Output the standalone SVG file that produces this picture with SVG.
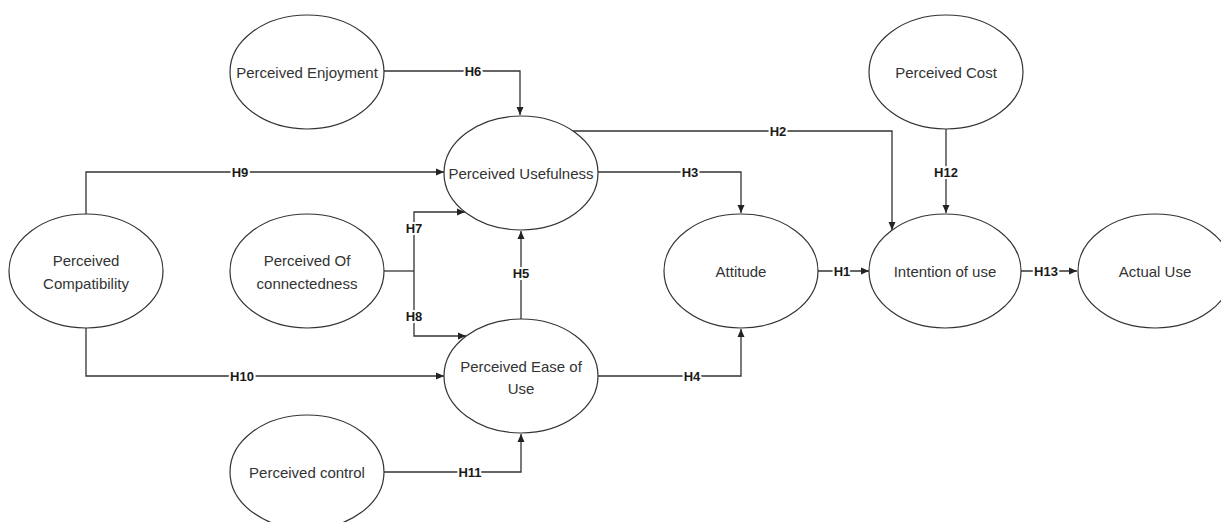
<svg xmlns="http://www.w3.org/2000/svg" width="1221" height="522" viewBox="0 0 1221 522">
<style>
.n{fill:#fff;stroke:#333;stroke-width:1.2}
.t{font-family:"Liberation Sans",Arial,sans-serif;font-size:15px;fill:#333;text-anchor:middle;dominant-baseline:central}
.e{fill:none;stroke:#333;stroke-width:1.3}
.l{font-family:"Liberation Sans",Arial,sans-serif;font-size:13px;font-weight:bold;fill:#1a1a1a;text-anchor:middle;dominant-baseline:central;stroke:#fff;stroke-width:4;paint-order:stroke;stroke-linejoin:round}
</style>
<defs>
<marker id="a" markerUnits="userSpaceOnUse" markerWidth="9" markerHeight="8" refX="8" refY="4" orient="auto"><path d="M0,0.5 L8,4 L0,7.5 z" fill="#222"/></marker>
</defs>
<rect width="1221" height="522" fill="#fff"/>
<g id="connectors">
<path class="e" d="M384,71 H520 V115" marker-end="url(#a)"/>
<path class="e" d="M86,214 V172 H444" marker-end="url(#a)"/>
<path class="e" d="M573,131 H892 V230" marker-end="url(#a)"/>
<path class="e" d="M598,172 H741 V213" marker-end="url(#a)"/>
<path class="e" d="M946,129 V213" marker-end="url(#a)"/>
<path class="e" d="M384,271 H414" stroke-width="2.4"/>
<path class="e" d="M414,271 V212 H465" marker-end="url(#a)"/>
<path class="e" d="M414,271 V336 H466" marker-end="url(#a)"/>
<path class="e" d="M521,319 V231" marker-end="url(#a)"/>
<path class="e" d="M86,328 V376 H444" marker-end="url(#a)"/>
<path class="e" d="M598,376 H741 V329" marker-end="url(#a)"/>
<path class="e" d="M384,472 H521 V434" marker-end="url(#a)"/>
<path class="e" d="M818,271 H869" marker-end="url(#a)"/>
<path class="e" d="M1021,271 H1077" marker-end="url(#a)"/>
<text class="l" x="473" y="71">H6</text>
<text class="l" x="240" y="172">H9</text>
<text class="l" x="778" y="131">H2</text>
<text class="l" x="690" y="172">H3</text>
<text class="l" x="946" y="172">H12</text>
<text class="l" x="414" y="228">H7</text>
<text class="l" x="414" y="316">H8</text>
<text class="l" x="521" y="273">H5</text>
<text class="l" x="242" y="376">H10</text>
<text class="l" x="692" y="376">H4</text>
<text class="l" x="470" y="472">H11</text>
<text class="l" x="842" y="271">H1</text>
<text class="l" x="1046" y="271">H13</text>
</g>
<g id="enjoyment"><ellipse class="n" cx="307" cy="72" rx="77" ry="57"/><text class="t" x="307" y="72">Perceived Enjoyment</text></g>
<g id="usefulness"><ellipse class="n" cx="521" cy="173" rx="77" ry="57"/><text class="t" x="521" y="173">Perceived Usefulness</text></g>
<g id="compatibility"><ellipse class="n" cx="86" cy="271" rx="77" ry="57"/><text class="t" x="86" y="260">Perceived</text><text class="t" x="86" y="283">Compatibility</text></g>
<g id="connectedness"><ellipse class="n" cx="307" cy="271" rx="77" ry="57"/><text class="t" x="307" y="260">Perceived Of</text><text class="t" x="307" y="283">connectedness</text></g>
<g id="ease"><ellipse class="n" cx="521" cy="376" rx="77" ry="57"/><text class="t" x="521" y="366">Perceived Ease of</text><text class="t" x="521" y="388">Use</text></g>
<g id="control"><ellipse class="n" cx="307" cy="472" rx="77" ry="57"/><text class="t" x="307" y="472">Perceived control</text></g>
<g id="attitude"><ellipse class="n" cx="741" cy="271" rx="77" ry="57"/><text class="t" x="741" y="271">Attitude</text></g>
<g id="intention"><ellipse class="n" cx="945" cy="271" rx="76" ry="57"/><text class="t" x="945" y="271">Intention of use</text></g>
<g id="actual"><ellipse class="n" cx="1155" cy="271" rx="77" ry="57"/><text class="t" x="1155" y="271">Actual Use</text></g>
<g id="cost"><ellipse class="n" cx="946" cy="72" rx="77" ry="57"/><text class="t" x="946" y="72">Perceived Cost</text></g>
</svg>
